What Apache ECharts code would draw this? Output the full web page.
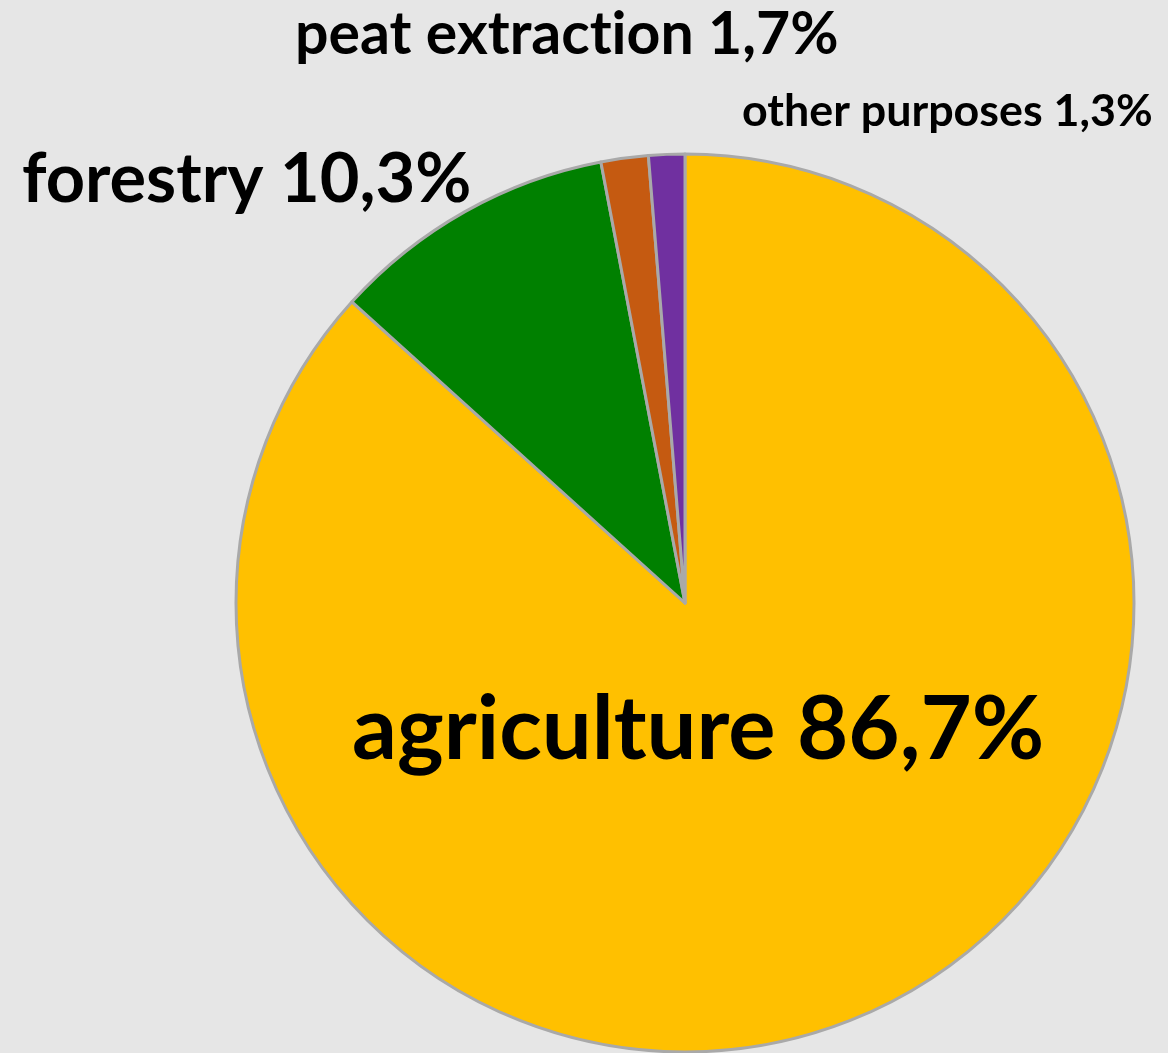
<!DOCTYPE html>
<html><head><meta charset="utf-8">
<script src="https://cdn.jsdelivr.net/npm/echarts@6/dist/echarts.min.js"></script>
<style>html,body{margin:0;padding:0;background:#e6e6e6;}#c{width:1168px;height:1053px;}</style>
</head><body><div id="c"></div>
<script>
const categories = ['agriculture', 'forestry', 'peat extraction', 'other purposes'];
const shares = [86.7, 10.3, 1.7, 1.3];
const colors = ['#FFC000', '#008000', '#C55A11', '#7030A0'];

const labelFont = [88.5, 68.5, 59, 44.8];
const labelPos = [[352, 730], [22, 180], [295, 35], [742, 112]];

const chart = echarts.init(document.getElementById('c'));
chart.setOption({
  backgroundColor: '#e6e6e6',
  animation: false,
  series: [{
    type: 'pie',
    center: [685, 603],
    radius: 449,
    startAngle: 90,
    clockwise: true,
    data: categories.map((n, i) => ({
      name: n, value: shares[i],
      itemStyle: { color: colors[i] },
      label: { fontSize: labelFont[i] }
    })),
    itemStyle: { borderColor: '#a9a9a9', borderWidth: 3 },
    label: {
      show: true,
      position: 'inside',
      fontFamily: 'Lato',
      fontWeight: 'bold',
      color: '#000',
      formatter: p => (p.name + ' ' + String(p.value).replace('.', ',') + '%').replace(/ti/g, 't\u200Ci')
    },
    labelLine: { show: false },
    labelLayout: p => ({ x: labelPos[p.dataIndex][0], y: labelPos[p.dataIndex][1], align: 'left', verticalAlign: 'middle' }),
    emphasis: { disabled: true }
  }]
});
</script></body></html>
